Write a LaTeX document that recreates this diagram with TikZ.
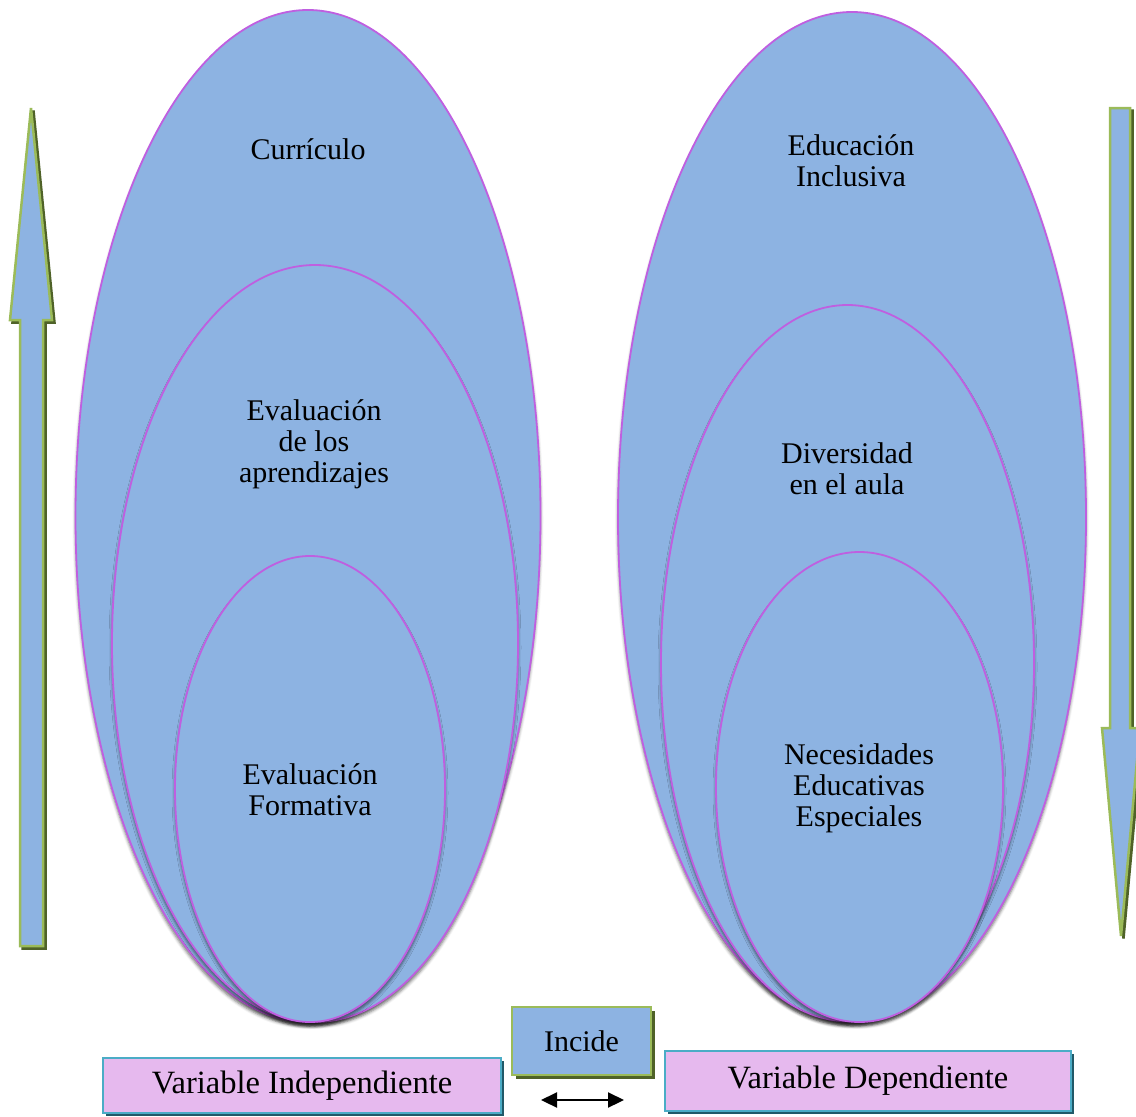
\documentclass[tikz,border=0pt]{standalone}
\usepackage{fontspec}
\setmainfont{Liberation Serif}
\usetikzlibrary{shapes.geometric,shadows,shadows.blur,arrows.meta}
\definecolor{ellfill}{HTML}{8DB3E2}
\definecolor{ellline}{HTML}{BF5FE0}
\definecolor{grn}{HTML}{9BBB59}
\definecolor{olive}{HTML}{4F6228}
\definecolor{pinkfill}{HTML}{E6B9EE}
\definecolor{teal}{HTML}{4BACC6}
\definecolor{tealdark}{HTML}{215968}
\tikzset{
  ell/.style={ellipse, draw=ellline, line width=1.8pt, fill=ellfill, inner sep=0pt,
    blur shadow={shadow xshift=0pt, shadow yshift=-4pt, shadow blur radius=3pt, shadow opacity=55}},
  lbl/.style={align=center, font=\fontsize{30}{31}\selectfont, inner sep=0pt},
  varbox/.style={draw=teal, line width=2pt, fill=pinkfill, inner sep=0pt,
    font=\fontsize{32.5}{36}\selectfont,
    drop shadow={fill=tealdark, opacity=1, shadow xshift=3pt, shadow yshift=-3pt}},
  incbox/.style={draw=grn, line width=2.5pt, fill=ellfill, inner sep=0pt,
    font=\fontsize{30}{31}\selectfont,
    drop shadow={fill=olive, opacity=1, shadow xshift=4pt, shadow yshift=-4pt}},
  bigarrow/.style={draw=grn, line width=2.5pt, fill=ellfill, line join=miter},
  arrshadow/.style={fill=olive, draw=olive, line width=2.5pt}
}
\begin{document}
\begin{tikzpicture}[x=1pt,y=-1pt]
\useasboundingbox (0,0) rectangle (1136,1117);
% left ellipses
\node[ell, minimum width=465pt, minimum height=1012pt] (lo) at (308,516) {};
\node[ell, minimum width=406pt, minimum height=757pt] (lm) at (315,643.5) {};
\node[ell, minimum width=270pt, minimum height=466pt] (li) at (310,789) {};
% right ellipses
\node[ell, minimum width=468pt, minimum height=1010pt] (ro) at (852,517) {};
\node[ell, minimum width=373pt, minimum height=716pt] (rm) at (847.5,663) {};
\node[ell, minimum width=287pt, minimum height=470pt] (ri) at (859.5,787) {};
% labels
\node[lbl] (t1) at (308,149) {Currículo};
\node[lbl] (t2) at (314,444) {Evaluación\\de los\\aprendizajes};
\node[lbl] (t3) at (310,790) {Evaluación\\Formativa};
\node[lbl] (t4) at (851,161) {Educación\\Inclusiva};
\node[lbl] (t5) at (847,469) {Diversidad\\en el aula};
\node[lbl] (t6) at (859,788) {Necesidades\\Educativas\\Especiales};
% left big arrow (up)
\begin{scope}[shift={(2.5,2.5)}]
\fill[arrshadow] (20,946) -- (20,320) -- (10,320) -- (31,108) -- (52,320) -- (43,320) -- (43,946) -- cycle;
\end{scope}
\draw[bigarrow] (20,946) -- (20,320) -- (10,320) -- (31,108) -- (52,320) -- (43,320) -- (43,946) -- cycle;
% right big arrow (down)
\begin{scope}[shift={(2.5,2.5)}]
\fill[arrshadow] (1110,108) -- (1130,108) -- (1130,728) -- (1140,728) -- (1121,936) -- (1102,728) -- (1110,728) -- cycle;
\end{scope}
\draw[bigarrow] (1110,108) -- (1130,108) -- (1130,728) -- (1140,728) -- (1121,936) -- (1102,728) -- (1110,728) -- cycle;
% boxes
\node[varbox, minimum width=398pt, minimum height=55pt] (vi) at (302,1085.5) {Variable Independiente};
\node[incbox, minimum width=139pt, minimum height=68pt] (inc) at (581.5,1041) {Incide};
\node[varbox, minimum width=406pt, minimum height=60pt] (vd) at (868,1081) {Variable Dependiente};
\coordinate (da) at (541,1100);
\coordinate (db) at (624,1100);
\draw[{Triangle[length=16pt,width=15pt]}-{Triangle[length=16pt,width=15pt]}, line width=2.2pt] (da) -- (db);
\end{tikzpicture}
\end{document}
